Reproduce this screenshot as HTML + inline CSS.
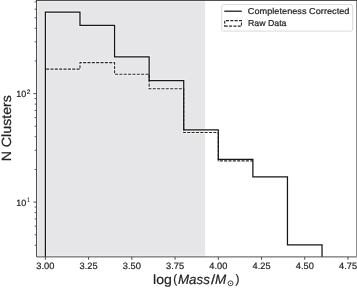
<!DOCTYPE html>
<html><head><meta charset="utf-8"><style>
html,body{margin:0;padding:0;background:#fff;}
svg{display:block;will-change:transform;filter:blur(0.3px);}
text{font-family:"Liberation Sans",sans-serif;text-rendering:geometricPrecision;fill:#222;stroke:#222;stroke-width:0.2px;}
</style></head><body>
<svg width="357" height="290" viewBox="0 0 357 290">
<rect x="36.5" y="0" width="168.60" height="256.9" fill="#e6e6e8"/>
<clipPath id="c"><rect x="36.5" y="0.2" width="320.0" height="256.7"/></clipPath>
<g clip-path="url(#c)">
<clipPath id="sh"><rect x="36.5" y="0" width="168.60" height="256.9"/></clipPath>
<g clip-path="url(#sh)"><path d="M45.40,258.90 L45.40,12.02 L79.98,12.02 L79.98,25.33 L114.56,25.33 L114.56,56.80 L149.14,56.80 L149.14,80.51 L183.72,80.51 L183.72,129.83 L218.30,129.83 L218.30,159.46 L252.88,159.46 L252.88,176.90 L287.46,176.90 L287.46,244.92 L322.04,244.92 L322.04,258.90" fill="none" stroke="#efeff0" stroke-width="3.4"/><path d="M45.40,69.15 L45.40,69.15 L79.98,69.15 L79.98,62.62 L114.56,62.62 L114.56,74.18 L149.14,74.18 L149.14,88.68 L183.72,88.68 L183.72,132.50 L218.30,132.50 L218.30,160.85 L252.88,160.85" fill="none" stroke="#efeff0" stroke-width="3.1"/><path d="M36.5,256.9 L36.5,0.2 L356.5,0.2 M356.5,256.9 L36.5,256.9" fill="none" stroke="#efeff0" stroke-width="3.4"/></g>
<path d="M45.40,69.15 L45.40,69.15 L79.98,69.15 L79.98,62.62 L114.56,62.62 L114.56,74.18 L149.14,74.18 L149.14,88.68 L183.72,88.68 L183.72,132.50 L218.30,132.50 L218.30,160.85 L252.88,160.85" fill="none" stroke="#2a2a2a" stroke-width="1.1" stroke-dasharray="3.04,1.31" stroke-dashoffset="3.61"/>
<path d="M45.40,258.90 L45.40,12.02 L79.98,12.02 L79.98,25.33 L114.56,25.33 L114.56,56.80 L149.14,56.80 L149.14,80.51 L183.72,80.51 L183.72,129.83 L218.30,129.83 L218.30,159.46 L252.88,159.46 L252.88,176.90 L287.46,176.90 L287.46,244.92 L322.04,244.92 L322.04,258.90" fill="none" stroke="#161616" stroke-width="1.25"/>
</g>
<path d="M36.5,256.9 L36.5,0.2 M356.5,256.9 L36.5,256.9" fill="none" stroke="#505050" stroke-width="1.0"/>
<path d="M356.5,0.2 L356.5,257.4" fill="none" stroke="#8c8c8c" stroke-width="1.0"/>
<rect x="36.0" y="-0.5" width="321.0" height="1.3" fill="#262626"/>
<line x1="45.40" y1="256.9" x2="45.40" y2="259.79999999999995" stroke="#505050" stroke-width="1.0"/>
<text transform="translate(36.35,268.80) scale(1.0129,1)" font-size="9.2">3.00</text>
<line x1="88.62" y1="256.9" x2="88.62" y2="259.79999999999995" stroke="#505050" stroke-width="1.0"/>
<text transform="translate(79.57,268.80) scale(1.0129,1)" font-size="9.2">3.25</text>
<line x1="131.85" y1="256.9" x2="131.85" y2="259.79999999999995" stroke="#505050" stroke-width="1.0"/>
<text transform="translate(122.80,268.80) scale(1.0129,1)" font-size="9.2">3.50</text>
<line x1="175.08" y1="256.9" x2="175.08" y2="259.79999999999995" stroke="#505050" stroke-width="1.0"/>
<text transform="translate(166.02,268.80) scale(1.0129,1)" font-size="9.2">3.75</text>
<line x1="218.30" y1="256.9" x2="218.30" y2="259.79999999999995" stroke="#505050" stroke-width="1.0"/>
<text transform="translate(209.37,268.80) scale(1.0057,1)" font-size="9.2">4.00</text>
<line x1="261.52" y1="256.9" x2="261.52" y2="259.79999999999995" stroke="#505050" stroke-width="1.0"/>
<text transform="translate(252.60,268.80) scale(1.0057,1)" font-size="9.2">4.25</text>
<line x1="304.75" y1="256.9" x2="304.75" y2="259.79999999999995" stroke="#505050" stroke-width="1.0"/>
<text transform="translate(295.82,268.80) scale(1.0057,1)" font-size="9.2">4.50</text>
<line x1="347.97" y1="256.9" x2="347.97" y2="259.79999999999995" stroke="#505050" stroke-width="1.0"/>
<text transform="translate(339.05,268.80) scale(1.0057,1)" font-size="9.2">4.75</text>
<line x1="33.4" y1="202.10" x2="36.5" y2="202.10" stroke="#505050" stroke-width="1.0"/>
<line x1="33.4" y1="93.60" x2="36.5" y2="93.60" stroke="#505050" stroke-width="1.0"/>
<line x1="34.6" y1="245.28" x2="36.5" y2="245.28" stroke="#505050" stroke-width="0.95"/>
<line x1="34.6" y1="234.76" x2="36.5" y2="234.76" stroke="#505050" stroke-width="0.95"/>
<line x1="34.6" y1="226.17" x2="36.5" y2="226.17" stroke="#505050" stroke-width="0.95"/>
<line x1="34.6" y1="218.91" x2="36.5" y2="218.91" stroke="#505050" stroke-width="0.95"/>
<line x1="34.6" y1="212.61" x2="36.5" y2="212.61" stroke="#505050" stroke-width="0.95"/>
<line x1="34.6" y1="207.06" x2="36.5" y2="207.06" stroke="#505050" stroke-width="0.95"/>
<line x1="34.6" y1="169.44" x2="36.5" y2="169.44" stroke="#505050" stroke-width="0.95"/>
<line x1="34.6" y1="150.33" x2="36.5" y2="150.33" stroke="#505050" stroke-width="0.95"/>
<line x1="34.6" y1="136.78" x2="36.5" y2="136.78" stroke="#505050" stroke-width="0.95"/>
<line x1="34.6" y1="126.26" x2="36.5" y2="126.26" stroke="#505050" stroke-width="0.95"/>
<line x1="34.6" y1="117.67" x2="36.5" y2="117.67" stroke="#505050" stroke-width="0.95"/>
<line x1="34.6" y1="110.41" x2="36.5" y2="110.41" stroke="#505050" stroke-width="0.95"/>
<line x1="34.6" y1="104.11" x2="36.5" y2="104.11" stroke="#505050" stroke-width="0.95"/>
<line x1="34.6" y1="98.56" x2="36.5" y2="98.56" stroke="#505050" stroke-width="0.95"/>
<line x1="34.6" y1="60.94" x2="36.5" y2="60.94" stroke="#505050" stroke-width="0.95"/>
<line x1="34.6" y1="41.83" x2="36.5" y2="41.83" stroke="#505050" stroke-width="0.95"/>
<line x1="34.6" y1="28.28" x2="36.5" y2="28.28" stroke="#505050" stroke-width="0.95"/>
<line x1="34.6" y1="17.76" x2="36.5" y2="17.76" stroke="#505050" stroke-width="0.95"/>
<line x1="34.6" y1="9.17" x2="36.5" y2="9.17" stroke="#505050" stroke-width="0.95"/>
<line x1="34.6" y1="1.91" x2="36.5" y2="1.91" stroke="#505050" stroke-width="0.95"/>
<text transform="translate(16.28,96.60) scale(0.9973,1)" font-size="9.0">10</text>
<text transform="translate(26.64,93.80) scale(1.0240,1)" font-size="6.5">2</text>
<text transform="translate(16.28,205.60) scale(0.9973,1)" font-size="9.0">10</text>
<text transform="translate(27.35,202.30) scale(0.6667,1)" font-size="6.5">1</text>
<text transform="translate(10.50,161.36) rotate(-90) scale(1.0601,1)" font-size="13.4">N Clusters</text>
<text transform="translate(173.21,283.40) scale(0.9379,1)" font-size="12.4">(</text>
<text transform="translate(153.01,284.00) scale(1.0504,1)" font-size="13.4">log</text>
<text transform="translate(178.03,284.00) scale(0.9937,1)" font-size="13.4" font-style="italic">Mass</text>
<text transform="translate(210.94,284.00) scale(1.1250,1)" font-size="13.4">/</text>
<text transform="translate(214.92,284.00) scale(1.0023,1)" font-size="13.4" font-style="italic">M</text>
<text transform="translate(235.62,283.40) scale(0.9379,1)" font-size="12.4">)</text>
<circle cx="230.5" cy="283.3" r="2.45" fill="none" stroke="#222" stroke-width="0.85"/><circle cx="230.5" cy="283.3" r="0.65" fill="#222"/>
<rect x="221.7" y="4.6" width="131.0" height="26.5" rx="2" fill="#fff" fill-opacity="0.85" stroke="#d0d0d0" stroke-width="0.8"/>
<line x1="224.3" y1="11.2" x2="241.8" y2="11.2" stroke="#161616" stroke-width="1.25"/>
<path d="M224.7,26.1 H241.5 V20.6 H224.7 Z" fill="none" stroke="#2a2a2a" stroke-width="1.1" stroke-dasharray="3.04,1.31"/>
<text transform="translate(247.80,14.20) scale(1.0695,1)" font-size="8.6">Completeness Corrected</text>
<text transform="translate(247.96,26.10) scale(1.0201,1)" font-size="8.6">Raw Data</text>
</svg>
</body></html>
